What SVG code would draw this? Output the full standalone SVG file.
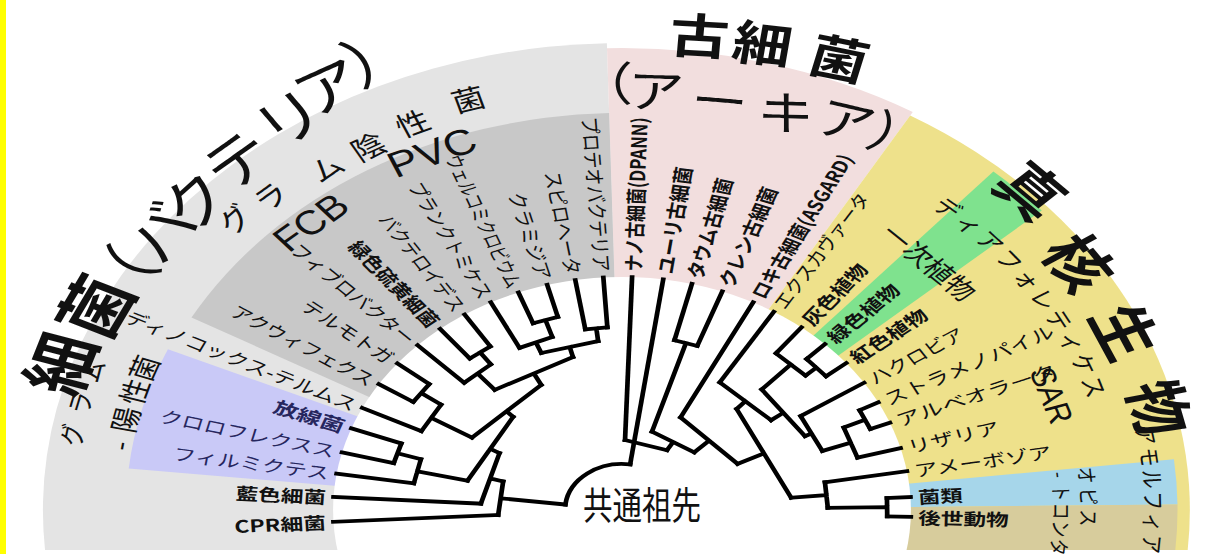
<svg xmlns="http://www.w3.org/2000/svg" width="1211" height="554" viewBox="0 0 1211 554">
<style>
text{font-family:"Noto Sans CJK JP","Noto Sans",sans-serif;fill:#111}
.lb{font-size:17px;dominant-baseline:central}
.e{text-anchor:end}
.s{text-anchor:start}
.b{font-weight:700}
.nv{fill:#26265e}
.c{text-anchor:middle;dominant-baseline:central}
.lat{font-family:"Liberation Sans",Arial,sans-serif}
#connectors path{fill:none;stroke:#000;stroke-width:3.8;stroke-linecap:square}
</style>
<rect width="1211" height="554" fill="#fff"/>
<g transform="translate(622 510) scale(1.24 1)">
<g id="regions">
<path d="M0 40L-465.3 40A467 467 0 0 1-12.2-466.8L0 0Z" fill="#e4e4e4"/>
<path d="M0 0L-12.1-461.8A462 462 0 0 1 234.5-398.1Z" fill="#f2dede"/>
<path d="M0 0L232.4-394.6A458 458 0 0 1 456.2 40L0 40Z" fill="#eee18b"/>
<path d="M0 0L-347.2-192.5A397 397 0 0 1-10.4-396.9Z" fill="#c8c8c8"/>
<path d="M0 0L-397.8-41.6A400 400 0 0 1-366.2-160.8Z" fill="#c9c9f7"/>
<path d="M0 0L299.5-338.5A452 452 0 0 1 338.5-299.5Z" fill="#7fe28e"/>
<path d="M0 0L445.1-50.7A448 448 0 0 1 447.97-5.47Z" fill="#a6d6ea"/>
<path d="M0 0L447.97-5.47A448 448 0 0 1 446.2 40L0 40Z" fill="#d7cc9c"/>
<circle r="233" fill="#fff"/>
</g>
<g id="connectors">
<path transform="rotate(-2.9)" d="M-233 0H-100"/>
<path transform="rotate(3.2)" d="M-233 0H-114"/>
<path transform="rotate(9)" d="M-233 0H-170"/>
<path transform="rotate(14.3)" d="M-233 0H-190"/>
<path transform="rotate(20.5)" d="M-233 0H-190"/>
<path transform="rotate(26)" d="M-233 0H-180"/>
<path transform="rotate(32.7)" d="M-233 0H-200"/>
<path transform="rotate(39)" d="M-233 0H-200"/>
<path transform="rotate(45)" d="M-233 0H-180"/>
<path transform="rotate(51)" d="M-233 0H-195"/>
<path transform="rotate(57)" d="M-233 0H-195"/>
<path transform="rotate(63)" d="M-233 0H-182"/>
<path transform="rotate(69)" d="M-233 0H-200"/>
<path transform="rotate(75)" d="M-233 0H-200"/>
<path transform="rotate(80.7)" d="M-233 0H-183"/>
<path transform="rotate(86.3)" d="M-233 0H-183"/>
<path transform="rotate(83.5)" d="M-182.8-8.94V8.94M-182.8 0H-170"/>
<path transform="rotate(72)" d="M-199.7-10.47V10.47M-199.7 0H-182"/>
<path transform="rotate(67.5)" d="M-181.4-14.28V14.28M-181.4 0H-170"/>
<path transform="rotate(75.5)" d="M-168.3-23.66V23.66M-168.3 0H-158"/>
<path transform="rotate(54)" d="M-194.7-10.21V10.21M-194.7 0H-180"/>
<path transform="rotate(49.5)" d="M-179.4-14.12V14.12M-179.4 0H-158"/>
<path transform="rotate(62.5)" d="M-153.95-35.54V35.54M-153.95 0H-141"/>
<path transform="rotate(35.85)" d="M-199.7-10.99V10.99M-199.7 0H-180"/>
<path transform="rotate(30.925)" d="M-179.3-15.45V15.45M-179.3 0H-141"/>
<path transform="rotate(17.4)" d="M-189.7-10.28V10.28M-189.7 0H-170"/>
<path transform="rotate(13.2)" d="M-169.5-12.45V12.45M-169.5 0H-128"/>
<path transform="rotate(46.7125)" d="M-135.7-38.36V38.36M-135.7 0H-128"/>
<path transform="rotate(29.956)" d="M-122.6-36.9V36.9M-122.6 0H-114"/>
<path transform="rotate(16.578)" d="M-110.9-26.38V26.38M-110.9 0H-100"/>
<path transform="rotate(6.839)" d="M-98.56-16.92V16.92M-98.56 0H-46"/>
<path transform="rotate(92)" d="M-233 0H-70"/>
<path transform="rotate(98.2)" d="M-233 0H-46"/>
<path transform="rotate(104)" d="M-233 0H-175"/>
<path transform="rotate(110.3)" d="M-233 0H-175"/>
<path transform="rotate(117)" d="M-233 0H-104"/>
<path transform="rotate(121.7)" d="M-233 0H-150"/>
<path transform="rotate(128.4)" d="M-233 0H-200"/>
<path transform="rotate(134.6)" d="M-233 0H-212"/>
<path transform="rotate(140.9)" d="M-233 0H-212"/>
<path transform="rotate(146.9)" d="M-233 0H-172"/>
<path transform="rotate(152.5)" d="M-233 0H-216"/>
<path transform="rotate(158)" d="M-233 0H-216"/>
<path transform="rotate(164.6)" d="M-233 0H-197"/>
<path transform="rotate(170.4)" d="M-233 0H-166"/>
<path transform="rotate(176.8)" d="M-233 0H-214"/>
<path transform="rotate(181.7)" d="M-233 0H-214"/>
<path transform="rotate(107.15)" d="M-174.7-9.62V9.62M-174.7 0H-82"/>
<path transform="rotate(179.25)" d="M-213.8-9.15V9.15M-213.8 0H-166"/>
<path transform="rotate(174.825)" d="M-165.5-12.81V12.81M-165.5 0H-137"/>
<path transform="rotate(155.25)" d="M-215.75-10.36V10.36M-215.75 0H-197"/>
<path transform="rotate(159.925)" d="M-196.3-16.06V16.06M-196.3 0H-172"/>
<path transform="rotate(153.41)" d="M-170.9-19.51V19.51M-170.9 0H-165"/>
<path transform="rotate(137.75)" d="M-211.7-11.65V11.65M-211.7 0H-200"/>
<path transform="rotate(133.075)" d="M-199.3-16.3V16.3M-199.3 0H-165"/>
<path transform="rotate(143.24)" d="M-162.4-29.13V29.13M-162.4 0H-150"/>
<path transform="rotate(132.47)" d="M-147.4-28.03V28.03M-147.4 0H-137"/>
<path transform="rotate(153.65)" d="M-127.7-49.49V49.49M-127.7 0H-104"/>
<path transform="rotate(135.325)" d="M-98.73-32.69V32.69M-98.73 0H-82"/>
<path transform="rotate(121.2375)" d="M-79.53-19.96V19.96M-79.53 0H-70"/>
<path transform="rotate(106.62)" d="M-67.73-17.67V17.67"/>
<path d="M-45.67-5.48A46 46 0 0 1 6.56-45.53"/>
</g>
<g id="leaf-labels">
<g id="n-cpr"><text class="lb e b" transform="rotate(-2.9)" x="-239" textLength="74" lengthAdjust="spacingAndGlyphs">CPR細菌</text></g>
<g id="n-cyano"><text class="lb e b" transform="rotate(3.2)" x="-239" textLength="73" lengthAdjust="spacingAndGlyphs">藍色細菌</text></g>
<g id="n-firm"><text class="lb e nv" transform="rotate(9)" x="-239" textLength="127" lengthAdjust="spacingAndGlyphs">フィルミクテス</text></g>
<g id="n-chlorofl"><text class="lb e nv" transform="rotate(14.3)" x="-239" textLength="145" lengthAdjust="spacingAndGlyphs">クロロフレクスス</text></g>
<g id="n-actino"><text class="lb e b nv" transform="rotate(20.5)" x="-239" textLength="60" lengthAdjust="spacingAndGlyphs">放線菌</text></g>
<g id="n-deino"><text class="lb e" transform="rotate(26)" x="-239" textLength="205" lengthAdjust="spacingAndGlyphs">ディノコックス-テルムス</text></g>
<g id="n-aquif"><text class="lb e" transform="rotate(32.7)" x="-239" textLength="133" lengthAdjust="spacingAndGlyphs">アクウィフェクス</text></g>
<g id="n-thermo"><text class="lb e" transform="rotate(39)" x="-239" textLength="90" lengthAdjust="spacingAndGlyphs">テルモトガ</text></g>
<g id="n-fibro"><text class="lb e" transform="rotate(45)" x="-239" textLength="134" lengthAdjust="spacingAndGlyphs">フィブロバクター</text></g>
<g id="n-chlorobi"><text class="lb e b" transform="rotate(51)" x="-239" textLength="105" lengthAdjust="spacingAndGlyphs">緑色硫黄細菌</text></g>
<g id="n-bactero"><text class="lb e" transform="rotate(57)" x="-239" textLength="112" lengthAdjust="spacingAndGlyphs">バクテロイデス</text></g>
<g id="n-plancto"><text class="lb e" transform="rotate(63)" x="-239" textLength="128" lengthAdjust="spacingAndGlyphs">プランクトミケス</text></g>
<g id="n-verruco"><text class="lb e" transform="rotate(69)" x="-239" textLength="141" lengthAdjust="spacingAndGlyphs">ウェルコミクロビウム</text></g>
<g id="n-chlamy"><text class="lb e" transform="rotate(75)" x="-239" textLength="90" lengthAdjust="spacingAndGlyphs">クラミジア</text></g>
<g id="n-spiro"><text class="lb e" transform="rotate(80.7)" x="-239" textLength="104" lengthAdjust="spacingAndGlyphs">スピロヘータ</text></g>
<g id="n-proteo"><text class="lb e" transform="rotate(86.3)" x="-239" textLength="155" lengthAdjust="spacingAndGlyphs">プロテオバクテリア</text></g>
<g id="n-nano"><text class="lb s b" transform="rotate(-88)" x="239" textLength="154" lengthAdjust="spacingAndGlyphs">ナノ古細菌(DPANN)</text></g>
<g id="n-eury"><text class="lb s b" transform="rotate(-81.8)" x="239" textLength="108" lengthAdjust="spacingAndGlyphs">ユーリ古細菌</text></g>
<g id="n-thaum"><text class="lb s b" transform="rotate(-76)" x="239" textLength="103" lengthAdjust="spacingAndGlyphs">タウム古細菌</text></g>
<g id="n-cren"><text class="lb s b" transform="rotate(-69.7)" x="239" textLength="105" lengthAdjust="spacingAndGlyphs">クレン古細菌</text></g>
<g id="n-loki"><text class="lb s b" transform="rotate(-63)" x="239" textLength="159" lengthAdjust="spacingAndGlyphs">ロキ古細菌(ASGARD)</text></g>
<g id="n-excav"><text class="lb s" transform="rotate(-58.3)" x="239" textLength="132" lengthAdjust="spacingAndGlyphs">エクスカヴァータ</text></g>
<g id="n-glauco"><text class="lb s b" transform="rotate(-51.6)" x="239" textLength="73" lengthAdjust="spacingAndGlyphs">灰色植物</text></g>
<g id="n-green"><text class="lb s b" transform="rotate(-45.4)" x="239" textLength="75" lengthAdjust="spacingAndGlyphs">緑色植物</text></g>
<g id="n-red"><text class="lb s b" transform="rotate(-39.1)" x="239" textLength="75" lengthAdjust="spacingAndGlyphs">紅色植物</text></g>
<g id="n-hacro"><text class="lb s" transform="rotate(-33.1)" x="239" textLength="88" lengthAdjust="spacingAndGlyphs">ハクロビア</text></g>
<g id="n-strame"><text class="lb s" transform="rotate(-27.5)" x="239" textLength="152" lengthAdjust="spacingAndGlyphs">ストラメノパイル</text></g>
<g id="n-alveo"><text class="lb s" transform="rotate(-22)" x="239" textLength="138" lengthAdjust="spacingAndGlyphs">アルベオラータ</text></g>
<g id="n-rhiz"><text class="lb s" transform="rotate(-15.4)" x="239" textLength="76" lengthAdjust="spacingAndGlyphs">リザリア</text></g>
<g id="n-amoeb"><text class="lb s" transform="rotate(-9.6)" x="239" textLength="112" lengthAdjust="spacingAndGlyphs">アメーボゾア</text></g>
<g id="n-fungi"><text class="lb s b" transform="rotate(-3.2)" x="239" textLength="36" lengthAdjust="spacingAndGlyphs">菌類</text></g>
<g id="n-meta"><text class="lb s b" transform="rotate(1.7)" x="239" textLength="73" lengthAdjust="spacingAndGlyphs">後世動物</text></g>
</g>
<g id="bacteria-title">
<text class="c b" font-size="60" transform="rotate(17.9) translate(-479 0) rotate(-90)">細</text>
<text class="c b" font-size="60" transform="rotate(25.6) translate(-474 0) rotate(-90)">菌</text>
<text class="c" font-size="55" transform="rotate(31.5) translate(-470 0) rotate(-90)" x="-13">（</text>
<text class="c" font-size="55" transform="rotate(36.8) translate(-467 0) rotate(-90)">バ</text>
<text class="c" font-size="55" transform="rotate(42) translate(-466 0) rotate(-90)">ク</text>
<text class="c" font-size="55" transform="rotate(48.5) translate(-471 0) rotate(-90)">テ</text>
<text class="c" font-size="55" transform="rotate(55.6) translate(-478 0) rotate(-90)">リ</text>
<text class="c" font-size="55" transform="rotate(60.8) translate(-488 0) rotate(-90)">ア</text>
<text class="c" font-size="55" transform="rotate(65.1) translate(-497 0) rotate(-90)" x="13">）</text>
</g>
<g id="gram-negative">
<text class="c" font-size="27" transform="rotate(43) translate(-428 0) rotate(-90)">グ</text>
<text class="c" font-size="27" transform="rotate(47.9) translate(-424 0) rotate(-90)">ラ</text>
<text class="c" font-size="27" transform="rotate(55.1) translate(-418 0) rotate(-90)">ム</text>
<text class="c" font-size="27" transform="rotate(60.6) translate(-418 0) rotate(-90)">陰</text>
<text class="c" font-size="27" transform="rotate(66.4) translate(-423 0) rotate(-90)">性</text>
<text class="c" font-size="27" transform="rotate(73.2) translate(-430 0) rotate(-90)">菌</text>
</g>
<g id="gram-positive">
<text class="c" font-size="22" transform="rotate(9.65) translate(-451 0) rotate(-90)">グ</text>
<text class="c" font-size="22" transform="rotate(13.8) translate(-451 0) rotate(-90)">ラ</text>
<text class="c" font-size="22" transform="rotate(18) translate(-451 0) rotate(-90)">ム</text>
<text class="c" font-size="25" transform="rotate(9) translate(-412 0) rotate(-90)">-</text>
<text class="c" font-size="25" transform="rotate(12.7) translate(-412 0) rotate(-90)">陽</text>
<text class="c" font-size="25" transform="rotate(16.75) translate(-412 0) rotate(-90)">性</text>
<text class="c" font-size="25" transform="rotate(20.2) translate(-412 0) rotate(-90)">菌</text>
</g>
<g id="fcb"><text class="c lat" font-size="34" transform="rotate(48.9) translate(-382 0) rotate(-90)">FCB</text></g>
<g id="pvc"><text class="c lat" font-size="36" transform="rotate(66.8) translate(-389 0) rotate(-90)">PVC</text></g>
<g id="archaea-title">
<text class="c b" font-size="48" transform="translate(62.6 -477) rotate(4)">古</text>
<text class="c b" font-size="48" transform="translate(113.7 -469) rotate(8)">細</text>
<text class="c b" font-size="48" transform="translate(175.6 -454) rotate(14)">菌</text>
<text class="c" font-size="46" transform="translate(-3.2 -430) rotate(0)" x="-11">（</text>
<text class="c" font-size="46" transform="translate(27.4 -422) rotate(2)">ア</text>
<text class="c" font-size="46" transform="translate(79 -412) rotate(6)">ー</text>
<text class="c" font-size="46" transform="translate(133 -400) rotate(11)">キ</text>
<text class="c" font-size="46" transform="translate(181.5 -392) rotate(16)">ア</text>
<text class="c" font-size="46" transform="translate(213.7 -380) rotate(22)" x="11">）</text>
</g>
<g id="eukaryota-title">
<text class="c b" font-size="54" transform="rotate(135.9) translate(-462 0) rotate(-90)">真</text>
<text class="c b" font-size="54" transform="rotate(146.1) translate(-447 0) rotate(-90)">核</text>
<text class="c b" font-size="54" transform="rotate(156.3) translate(-446 0) rotate(-90)">生</text>
<text class="c b" font-size="54" transform="rotate(166.7) translate(-448 0) rotate(-90)">物</text>
</g>
<g id="archaeplastida"><text class="c" font-size="24" transform="rotate(135) translate(-351 0) rotate(-90)">一次植物</text></g>
<g id="diaphoretickes">
<text class="c" font-size="21" transform="rotate(131) translate(-401 0) rotate(-90)">デ</text>
<text class="c" font-size="21" transform="rotate(134.45) translate(-401 0) rotate(-90)">ィ</text>
<text class="c" font-size="21" transform="rotate(137.9) translate(-401 0) rotate(-90)">ア</text>
<text class="c" font-size="21" transform="rotate(141.35) translate(-401 0) rotate(-90)">フ</text>
<text class="c" font-size="21" transform="rotate(144.8) translate(-401 0) rotate(-90)">ォ</text>
<text class="c" font-size="21" transform="rotate(148.25) translate(-401 0) rotate(-90)">レ</text>
<text class="c" font-size="21" transform="rotate(151.7) translate(-401 0) rotate(-90)">テ</text>
<text class="c" font-size="21" transform="rotate(155.15) translate(-401 0) rotate(-90)">ィ</text>
<text class="c" font-size="21" transform="rotate(158.6) translate(-401 0) rotate(-90)">ケ</text>
<text class="c" font-size="21" transform="rotate(162.05) translate(-401 0) rotate(-90)">ス</text>
</g>
<g id="sar"><text class="c lat" font-size="28" transform="rotate(161.7) translate(-365 0) rotate(-90)">SAR</text></g>
<g id="amorphea">
<text class="c" font-size="19" transform="rotate(170) translate(-430 0) rotate(-90)">ア</text>
<text class="c" font-size="19" transform="rotate(172.92) translate(-430 0) rotate(-90)">モ</text>
<text class="c" font-size="19" transform="rotate(175.84) translate(-430 0) rotate(-90)">ル</text>
<text class="c" font-size="19" transform="rotate(178.76) translate(-430 0) rotate(-90)">フ</text>
<text class="c" font-size="19" transform="rotate(181.68) translate(-430 0) rotate(-90)">ィ</text>
<text class="c" font-size="19" transform="rotate(184.6) translate(-430 0) rotate(-90)">ア</text>
</g>
<g id="opisthokonta">
<text class="c" font-size="17" transform="rotate(174.7) translate(-377 0) rotate(-90)">オ</text>
<text class="c" font-size="17" transform="rotate(177.95) translate(-377 0) rotate(-90)">ピ</text>
<text class="c" font-size="17" transform="rotate(181.2) translate(-377 0) rotate(-90)">ス</text>
<text class="c" font-size="17" transform="rotate(174.3) translate(-355 0) rotate(-90)">-</text>
<text class="c" font-size="17" transform="rotate(177.23) translate(-355 0) rotate(-90)">ト</text>
<text class="c" font-size="17" transform="rotate(180.16) translate(-355 0) rotate(-90)">コ</text>
<text class="c" font-size="17" transform="rotate(183.09) translate(-355 0) rotate(-90)">ン</text>
<text class="c" font-size="17" transform="rotate(186.02) translate(-355 0) rotate(-90)">タ</text>
</g>
</g>
<g id="root"><text x="583" y="519" font-size="38" textLength="118" lengthAdjust="spacingAndGlyphs">共通祖先</text></g>
<rect x="0" y="0" width="6" height="554" fill="#ffff00"/>
</svg>
